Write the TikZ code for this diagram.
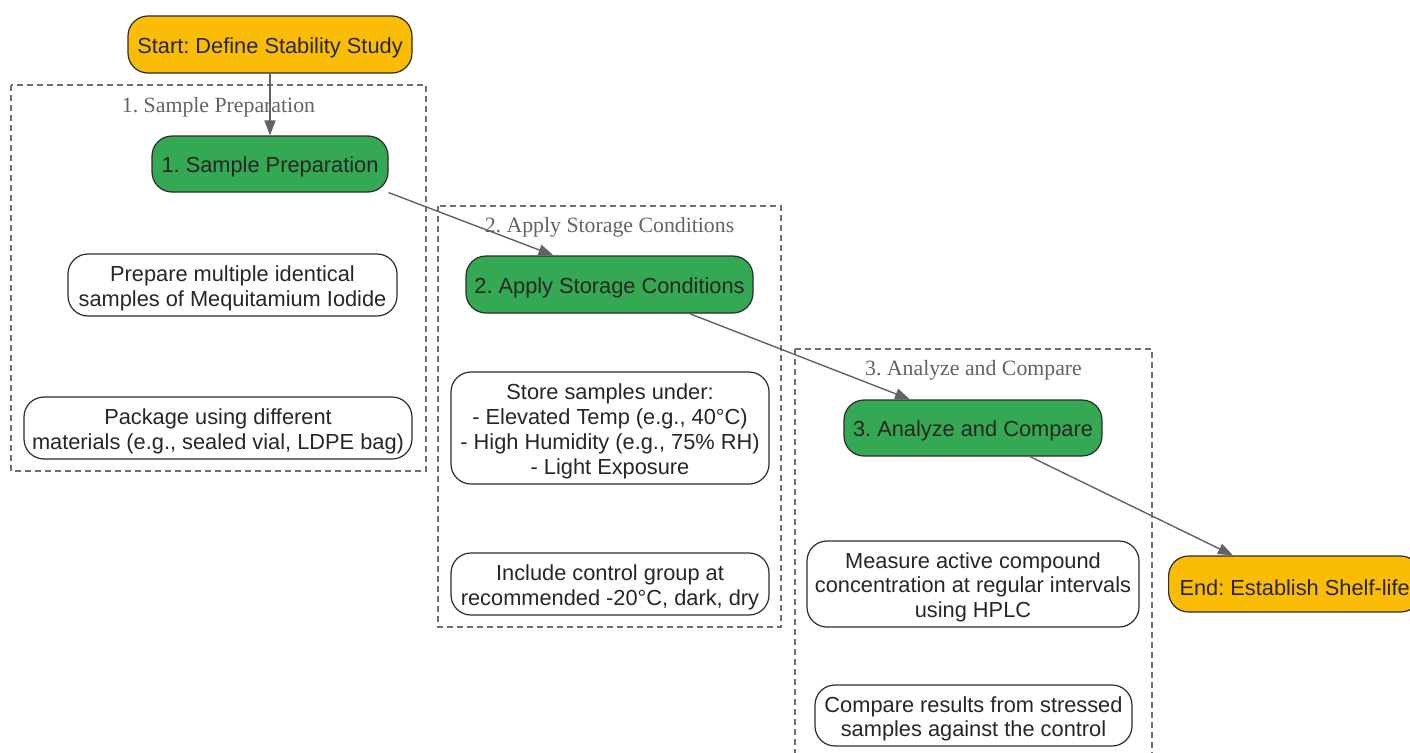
\documentclass[tikz,border=0pt]{standalone}
\usepackage{fontspec}
\setmainfont{Liberation Serif}
\newfontfamily\arialfont{Liberation Sans}
\usetikzlibrary{arrows.meta}
\frenchspacing

\definecolor{amber}{HTML}{FBBC05}
\definecolor{leaf}{HTML}{34A853}
\definecolor{edgegrey}{HTML}{5F6368}
\definecolor{boxline}{HTML}{2B2B2B}
\definecolor{clustergrey}{HTML}{6E6E6E}

\newcommand{\lift}{\rule{0pt}{22.5pt}}

\begin{document}
\begin{tikzpicture}[x=1pt,y=-1pt]

      \useasboundingbox (0,0) rectangle (1410,752);

      \begin{scope}[every path/.style={draw=clustergrey, line width=1.3pt, dash pattern=on 6pt off 4pt}]
        \path (11,85)  rectangle (426,471);
        \path (438,206) rectangle (781,627);
        \path (795,349) rectangle (1152,770);
      \end{scope}

      \begin{scope}[every node/.style={text=edgegrey, font=\fontsize{21.8}{24}\selectfont}]
        \node (c1) at (218.5,107) {1. Sample Preparation};
        \node (c2) at (609.5,227) {2. Apply Storage Conditions};
        \node (c3) at (973.5,370) {3. Analyze and Compare};
      \end{scope}

      \begin{scope}[every node/.style={draw=boxline, line width=1.2pt, rounded corners=20pt,
          align=center, inner sep=0pt, text=black!85,
          font=\arialfont\fontsize{21.8}{24.7}\selectfont}]
        \node[fill=amber, minimum width=284pt, minimum height=57pt] (start) at (270,44.5) {\lift Start: Define Stability Study};
        \node[fill=leaf, minimum width=236pt, minimum height=56pt] (prep) at (270,164) {\lift 1. Sample Preparation};
        \node[minimum width=329pt, minimum height=62pt] (multi) at (232.5,285) {\lift Prepare multiple identical\\samples of Mequitamium Iodide};
        \node[minimum width=388pt, minimum height=62pt] (pack) at (218,428) {\lift Package using different\\materials (e.g., sealed vial, LDPE bag)};
        \node[fill=leaf, minimum width=287pt, minimum height=57pt] (apply) at (609.5,284.5) {\lift 2. Apply Storage Conditions};
        \node[minimum width=318pt, minimum height=112pt] (store) at (610,428) {\lift Store samples under:\\- Elevated Temp (e.g., 40°C)\\- High Humidity (e.g., 75\% RH)\\- Light Exposure};
        \node[minimum width=318pt, minimum height=62pt] (control) at (610,584) {\lift Include control group at\\recommended -20°C, dark, dry};
        \node[fill=leaf, minimum width=258pt, minimum height=56pt] (analyze) at (973,428) {\lift 3. Analyze and Compare};
        \node[minimum width=332pt, minimum height=86pt] (measure) at (973,584) {\lift Measure active compound\\concentration at regular intervals\\using HPLC};
        \node[minimum width=317pt, minimum height=61pt] (compare) at (973.5,715.5) {\lift Compare results from stressed\\samples against the control};
        \node[fill=amber, minimum width=252pt, minimum height=56pt, anchor=west] (end) at (1168,584) {\lift End: Establish Shelf-life};
      \end{scope}

      \begin{scope}[every edge/.style={draw=edgegrey, line width=1.4pt, -{Triangle[length=15pt,width=11pt]}}]
        \path (start) edge (prep);
        \path (prep.south east) edge ([xshift=-56pt]apply.north);
        \path ([xshift=80pt]apply.south) edge ([xshift=-63pt]analyze.north);
        \path ([xshift=57pt]analyze.south) edge ([xshift=65pt]end.north west);
      \end{scope}

    \end{tikzpicture}
\end{document}
